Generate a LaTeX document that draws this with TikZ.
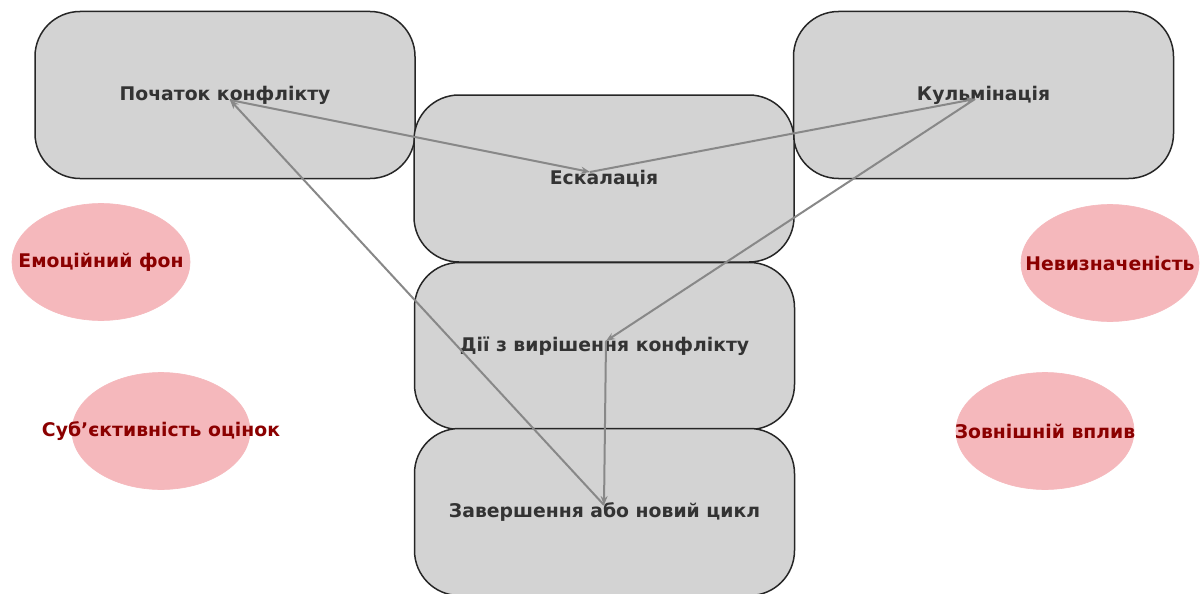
\documentclass[tikz,border=0pt]{standalone}
\usepackage{fontspec}
\setmainfont{DejaVu Sans}
\usetikzlibrary{shapes.geometric,arrows.meta}
\definecolor{boxfill}{HTML}{D3D3D3}
\definecolor{boxtext}{HTML}{333333}
\definecolor{ellfill}{HTML}{F5B8BC}
\definecolor{elltext}{HTML}{8B0000}
\definecolor{edgecol}{HTML}{888888}
\newcommand{\zerowidth}[1]{\makebox[0pt]{#1}}
\tikzset{
  stagebox/.style={draw=black!85, line width=1.5pt, fill=boxfill, rounded corners=45pt,
    minimum width=380pt, minimum height=167pt, inner sep=0pt, text=boxtext,
    font=\bfseries\fontsize{18.8}{21}\selectfont},
  factor/.style={ellipse, fill=ellfill, draw=ellfill, line width=0.6pt, inner sep=0pt,
    minimum width=178pt, minimum height=117pt, text=elltext,
    font=\bfseries\fontsize{18.8}{21}\selectfont},
  flow/.style={draw=edgecol, line width=2pt, -{Stealth[length=9pt,width=7pt]}},
}
\begin{document}
\begin{tikzpicture}[x=1pt,y=-1pt]
\useasboundingbox (0,0) rectangle (1202,594);
\fill[white] (0,0) rectangle (1202,594);
% stage boxes
\node[stagebox] (start) at (225,95) {Початок конфлікту};
\node[stagebox] (peak) at (983.5,95) {Кульмінація};
\node[stagebox] (esc) at (604,178.5) {Ескалація};
\node[stagebox] (act) at (604.5,346) {Дії з вирішення конфлікту};
\node[stagebox] (fin) at (604.5,512) {Завершення або новий цикл};
% factors
\node[factor] (emo) at (101,262) {\zerowidth{Емоційний фон}};
\node[factor] (subj) at (161,431) {\zerowidth{Суб’єктивність оцінок}};
\node[factor] (unc) at (1110,263) {\zerowidth{Невизначеність}};
\node[factor] (ext) at (1045,431) {\zerowidth{Зовнішній вплив}};
% edge anchor points
\coordinate (pS) at (230,100);
\coordinate (pE) at (590,172);
\coordinate (pK) at (975,99);
\coordinate (pD) at (606,341);
\coordinate (pZ) at (604,505);
\draw[flow] (pS) -- (pE);
\draw[flow] (pE) -- (pK);
\draw[flow] (pK) -- (pD);
\draw[flow] (pD) -- (pZ);
\draw[flow] (pZ) -- (pS);
\end{tikzpicture}
\end{document}
